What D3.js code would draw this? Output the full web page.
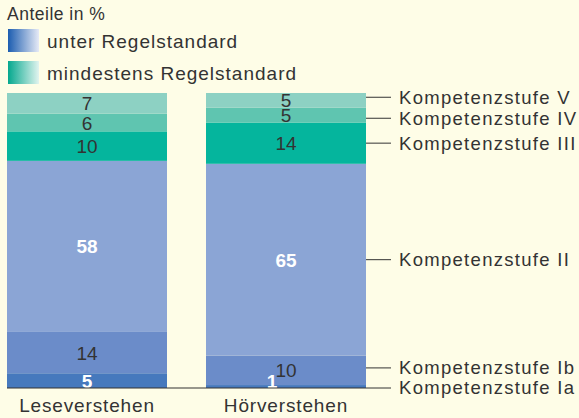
<!DOCTYPE html>
<html>
<head>
<meta charset="utf-8">
<script src="https://cdn.jsdelivr.net/npm/d3@7"></script>
<style>
  body { margin: 0; background: #fefde7; }
  svg { display: block; }
  text { font-family: "Liberation Sans", Arial, sans-serif; fill: #333; }
</style>
</head>
<body>
<div id="chart"></div>
<script>
const width = 579,
      height = 418;

// categories and levels (bottom to top)
const categories = ["Leseverstehen", "Hörverstehen"];
const levels = ["Kompetenzstufe Ia", "Kompetenzstufe Ib", "Kompetenzstufe II",
                "Kompetenzstufe III", "Kompetenzstufe IV", "Kompetenzstufe V"];
const leseValues = [5, 14, 58, 10, 6, 7];
const hoerValues = [1, 10, 65, 14, 5, 5];
const levelColors = ["#4679bd", "#6b8cc9", "#8ba5d5", "#05b59d", "#5fc5b0", "#8dd1c3"];
const whiteLabel = [true, false, true, false, false, false];
const legendLabels = ["unter Regelstandard", "mindestens Regelstandard"];

const svg = d3.select("#chart").append("svg")
    .attr("width", width)
    .attr("height", height);

const x = d3.scaleBand()
    .domain(categories)
    .range([7, 366])
    .paddingInner(0.196);

const y = d3.scaleLinear()
    .domain([0, 100])
    .range([388, 93]);

// cumulative segments per bar
const seriesByCat = {"Leseverstehen": leseValues, "Hörverstehen": hoerValues};
const stackData = categories.map(cat => {
    let acc = 0;
    return seriesByCat[cat].map((v, i) => {
        const seg = {cat: cat, i: i, value: v, y0: acc, y1: acc + v};
        acc += v;
        return seg;
    });
});

const bars = svg.append("g");
stackData.forEach(segs => {
    const g = bars.append("g");
    g.selectAll("rect")
        .data(segs)
        .join("rect")
        .attr("x", d => x(d.cat))
        .attr("width", x.bandwidth())
        .attr("y", d => y(d.y1))
        .attr("height", d => y(d.y0) - y(d.y1))
        .attr("fill", d => levelColors[d.i]);

    g.selectAll("text")
        .data(segs)
        .join("text")
        .attr("x", d => x(d.cat) + x.bandwidth() / 2 - (d.value < 3 ? 14 : 0))
        .attr("y", d => Math.min((y(d.y0) + y(d.y1)) / 2, y(0) - 7) + 7)
        .attr("text-anchor", "middle")
        .style("font-size", "19px")
        .style("font-weight", d => whiteLabel[d.i] ? "bold" : "normal")
        .style("fill", d => whiteLabel[d.i] ? "#fff" : "#333")
        .text(d => d.value);
});

// baseline
svg.append("line")
    .attr("x1", 7).attr("x2", 366)
    .attr("y1", y(0)).attr("y2", y(0))
    .attr("stroke", "#333").attr("stroke-width", 1.2);

// category labels
svg.append("g").selectAll("text")
    .data(categories)
    .join("text")
    .attr("x", d => x(d) + x.bandwidth() / 2)
    .attr("y", 412)
    .attr("text-anchor", "middle")
    .style("font-size", "19px")
    .style("letter-spacing", "0.85px")
    .text(d => d);

// right-hand level labels from the last bar, pushed apart
const last = stackData[stackData.length - 1];
let labelY = last.map(d => (y(d.y0) + y(d.y1)) / 2);
const minGap = 21;
for (let it = 0; it < 50; it++) {
    for (let i = 0; i < labelY.length - 1; i++) {
        const gap = labelY[i] - labelY[i + 1];
        if (gap < minGap) {
            const push = (minGap - gap) / 2;
            labelY[i] += push;
            labelY[i + 1] -= push;
        }
    }
}
labelY[0] = Math.min(labelY[0], y(0));
const xEnd = x(categories[1]) + x.bandwidth();
const lab = svg.append("g").selectAll("g")
    .data(levels)
    .join("g")
    .attr("transform", (d, i) => `translate(0,${labelY[i]})`);
lab.append("line")
    .attr("x1", xEnd).attr("x2", xEnd + 25)
    .attr("stroke", "#333").attr("stroke-width", 1);
lab.append("text")
    .attr("x", xEnd + 33)
    .attr("dy", "0.35em")
    .style("font-size", "18.5px")
    .style("letter-spacing", "1.3px")
    .text(d => d);

// legend
const defs = svg.append("defs");
const gradColors = [["#1c5db0", "#e6eaf6"], ["#04a88e", "#e2f4ef"]];
gradColors.forEach((c, i) => {
    const gr = defs.append("linearGradient").attr("id", "lg" + i);
    gr.append("stop").attr("offset", "0%").attr("stop-color", c[0]);
    gr.append("stop").attr("offset", "100%").attr("stop-color", c[1]);
});

svg.append("text")
    .attr("x", 7).attr("y", 20)
    .style("font-size", "17.5px")
    .style("letter-spacing", "0.5px")
    .text("Anteile in %");

const leg = svg.append("g").selectAll("g")
    .data(legendLabels)
    .join("g")
    .attr("transform", (d, i) => `translate(8,${29 + i * 32})`);
leg.append("rect")
    .attr("width", 31).attr("height", 23)
    .attr("fill", (d, i) => `url(#lg${i})`);
leg.append("text")
    .attr("x", 39).attr("y", 18.5)
    .style("font-size", "19px")
    .style("letter-spacing", "1px")
    .text(d => d);
</script>
</body>
</html>
